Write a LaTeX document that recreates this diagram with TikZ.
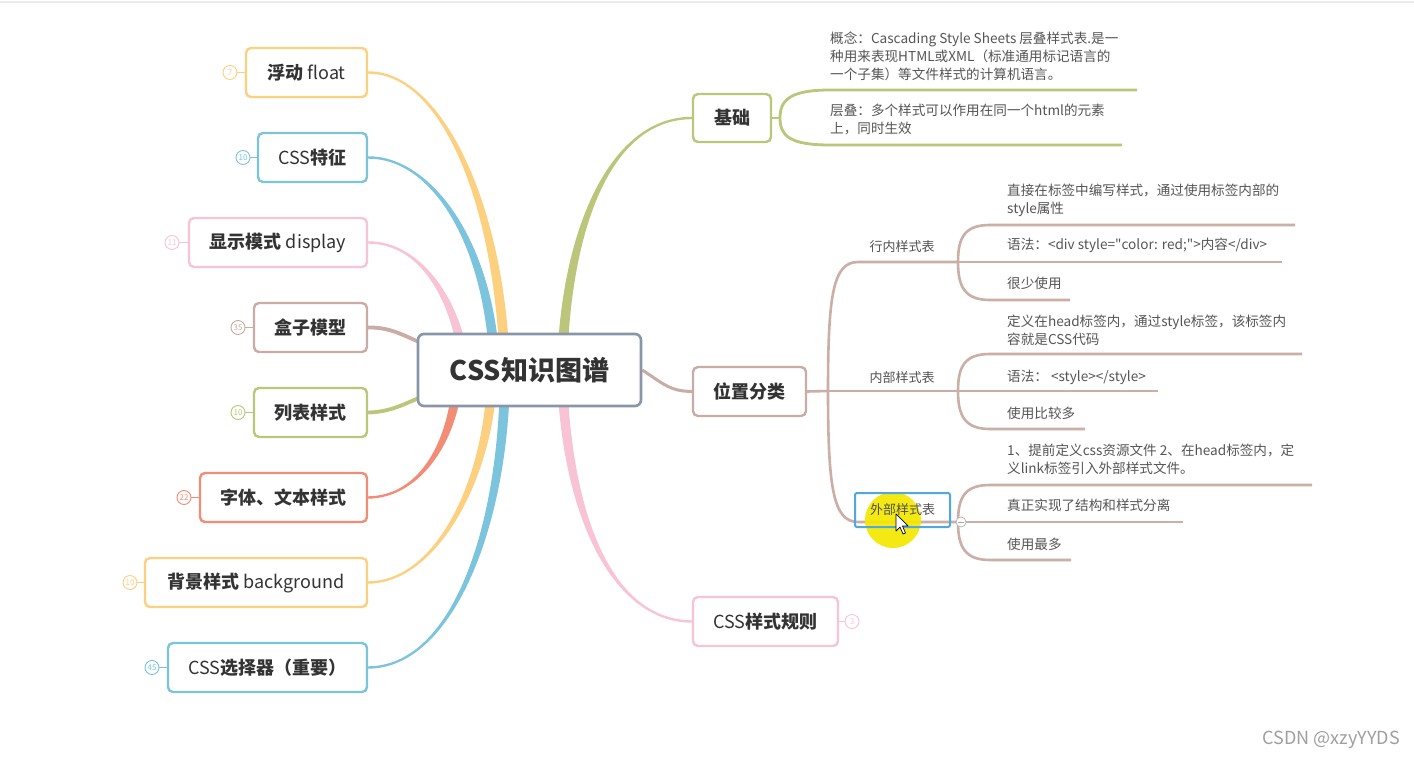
\documentclass[tikz,border=0pt]{standalone}
\usepackage{fontspec}
\setmainfont{Noto Sans CJK SC}
\newfontfamily\rawfont{Noto Sans CJK SC}
\usetikzlibrary{calc}
\definecolor{cyel}{HTML}{FCD07E}
\definecolor{cblu}{HTML}{7CC4DD}
\definecolor{cpnk}{HTML}{F9C3D6}
\definecolor{cbrn}{HTML}{C9ACA5}
\definecolor{cgrn}{HTML}{BCC67A}
\definecolor{csal}{HTML}{F38C76}
\definecolor{croot}{HTML}{8A96A8}
\definecolor{cline}{HTML}{C9AFA6}
\definecolor{ctxt}{HTML}{333333}
\definecolor{csub}{HTML}{555555}
\definecolor{csel}{HTML}{4FA8E0}
\definecolor{chl}{HTML}{F5E800}
\pgfdeclarelayer{bgfill}
\pgfdeclarelayer{bg}
\pgfsetlayers{bgfill,bg,main}
\newcommand\taper[7]{%
  \fill[#5] ($(#1)+(#6)$) .. controls ($(#2)+(#6)$) and ($(#3)+(#7)$) .. ($(#4)+(#7)$)
    -- ($(#4)-(#7)$) .. controls ($(#3)-(#7)$) and ($(#2)-(#6)$) .. ($(#1)-(#6)$) -- cycle;}
\newcommand\lt[1]{{\mdseries #1}}
\newcommand\qq{{\rawfont\symbol{34}}}
\begin{document}
\begin{tikzpicture}[x=1pt,y=-1pt,
  topic/.style={draw=#1, rounded corners=5pt, line width=2.4pt, fill=white,
    minimum height=49pt, inner sep=0pt, text=ctxt, font=\bfseries\fontsize{18}{20}\selectfont},
  badge/.style={circle, draw=#1, line width=0.9pt, fill=white, minimum size=14pt,
    inner sep=0pt, text=#1, font=\fontsize{8}{8}\selectfont},
  sublab/.style={inner sep=2pt, text=ctxt!85, font=\fontsize{13}{16}\selectfont},
  leaf/.style={anchor=north west, inner sep=0pt, align=left, text=csub,
    font=\fontsize{13.6}{18}\selectfont},
  brline/.style={cline, line width=2.6pt},
  grline/.style={cgrn, line width=2.8pt}]
\useasboundingbox (0,0) rectangle (1414,760);
\begin{pgfonlayer}{bgfill}
  \fill[white] (0,0) rectangle (1414,760);
  \draw[gray!15, line width=2.5pt] (0,2) -- (1414,2);
\end{pgfonlayer}

% ---------- root ----------
\node[draw=croot, rounded corners=6pt, line width=2.6pt, fill=white, minimum width=223pt,
  minimum height=72pt, text=ctxt, font=\bfseries\fontsize{27}{30}\selectfont] (root) at (529.5,370) {CSS知识图谱};

% ---------- left topics ----------
\node[topic=cyel, minimum width=121pt] (float) at (306.5,72.5) {浮动 \lt{float}};
\node[topic=cblu, minimum width=109pt] (feat) at (312.5,157.5) {\lt{CSS}特征};
\node[topic=cpnk, minimum width=178pt] (disp) at (278,242.5) {显示模式 \lt{display}};
\node[topic=cbrn, minimum width=113pt] (box) at (310.5,327.5) {盒子模型};
\node[topic=cgrn, minimum width=113pt] (list) at (310.5,412.5) {列表样式};
\node[topic=csal, minimum width=167pt] (font) at (283.5,497.5) {字体、文本样式};
\node[topic=cyel, minimum width=222pt] (bgd) at (256,582.5) {背景样式 \lt{background}};
\node[topic=cblu, minimum width=199pt] (sel) at (267.5,667.5) {\lt{CSS}选择器（重要）};

% badges
\node[badge=cyel] (b1) at (230,72.5) {7};
\node[badge=cblu] (b2) at (243,157.5) {10};
\node[badge=cpnk] (b3) at (172,242.5) {11};
\node[badge=cbrn] (b4) at (238,327.5) {35};
\node[badge=cgrn] (b5) at (238,412.5) {10};
\node[badge=csal] (b6) at (184,497.5) {22};
\node[badge=cyel] (b7) at (130,582.5) {10};
\node[badge=cblu] (b8) at (152,667.5) {45};

% ---------- right topics ----------
\node[topic=cgrn, minimum width=78pt, minimum height=48pt] (basic) at (732,118) {基础};
\node[topic=cbrn, minimum width=113pt] (pos) at (749.5,391.5) {位置分类};
\node[topic=cpnk, minimum width=145pt] (rule) at (765.5,621.5) {\lt{CSS}样式规则};
\node[badge=cpnk] (b9) at (852,621.5) {3};

% sub labels
\node[sublab] (inl) at (902,247) {行内样式表};
\node[sublab] (int) at (902,378) {内部样式表};
\node[sublab, draw=csel, line width=2pt, rounded corners=2pt, minimum width=95pt, minimum height=34pt] (ext) at (902.5,510) {外部样式表};

% leaves
\node[leaf] (t1) at (830,32) {概念：Cascading Style Sheets 层叠样式表.是一\\种用来表现HTML或XML（标准通用标记语言的\\一个子集）等文件样式的计算机语言。};
\node[leaf] (t2) at (830,104) {层叠：多个样式可以作用在同一个html的元素\\上，同时生效};
\node[leaf] (a1) at (1007,184) {直接在标签中编写样式，通过使用标签内部的\\style属性};
\node[leaf] (a2) at (1007,238) {语法：<div style=\qq color: red;\qq>内容</div>};
\node[leaf] (a3) at (1007,277) {很少使用};
\node[leaf] (n1) at (1007,315) {定义在head标签内，通过style标签，该标签内\\容就是CSS代码};
\node[leaf] (n2) at (1007,370) {语法： <style></style>};
\node[leaf] (n3) at (1007,407) {使用比较多};
\node[leaf] (e1) at (1007,444) {1、提前定义css资源文件 2、在head标签内，定\\义link标签引入外部样式文件。};
\node[leaf] (e2) at (1007,499) {真正实现了结构和样式分离};
\node[leaf] (e3) at (1007,538) {使用最多};

% coordinates
\coordinate (rA) at (505,370);
\coordinate (rB) at (495,370);
\coordinate (rC) at (465,370);
\coordinate (rD) at (458,370);
\coordinate (rE) at (492,370);
\coordinate (rF) at (505,370);
\coordinate (rG) at (562,370);
\coordinate (rH) at (430,346);
\coordinate (rI) at (430,394);
\coordinate (bj) at (780,118);
\coordinate (bl1) at (1137,90);
\coordinate (bl2) at (1122,145);
\coordinate (pj) at (828,391);
\coordinate (inlj) at (958,262);
\coordinate (intj) at (958,391);
\coordinate (extj) at (958,522);

\begin{pgfonlayer}{bg}
  % left connectors
  \taper{float.east}{440,72}{500,200}{rA}{cyel}{0,-1.2}{5,0}
  \taper{feat.east}{430,157}{490,240}{rB}{cblu}{0,-1.2}{5,0}
  \taper{disp.east}{420,242}{458,300}{rC}{cpnk}{0,-1.2}{5,0}
  \draw[cbrn, line width=3.8pt] (box.east) .. controls (395,327) and (410,340) .. (rH);
  \draw[cgrn, line width=3.8pt] (list.east) .. controls (395,412) and (410,400) .. (rI);
  \taper{font.east}{420,497}{456,440}{rD}{csal}{0,1.2}{5,0}
  \taper{bgd.east}{440,582}{492,470}{rE}{cyel}{0,1.2}{5,0}
  \taper{sel.east}{455,667}{505,520}{rF}{cblu}{0,1.2}{5,0}
  % badge links
  \foreach \b/\n/\c in {b1/float/cyel, b2/feat/cblu, b3/disp/cpnk, b4/box/cbrn, b5/list/cgrn, b6/font/csal, b7/bgd/cyel, b8/sel/cblu}
    \draw[\c, line width=1pt] (\b.east) -- (\n.west);
  \draw[cpnk, line width=1pt] (rule.east) -- (b9.west);
  % right connectors
  \taper{basic.west}{610,118}{565,230}{rG}{cgrn}{0,-1.2}{-5,0}
  \taper{rule.west}{610,621}{565,510}{rG}{cpnk}{0,1.2}{-5,0}
  \draw[cbrn, line width=3pt] (root.east) .. controls (665,385) and (670,391) .. (pos.west);
  % basic children
  \draw[grline] (basic.east) -- (bj);
  \draw[grline] (bj) .. controls (780,100) and (790,90) .. (830,90) -- (bl1);
  \draw[grline] (bj) .. controls (780,136) and (790,145) .. (830,145) -- (bl2);
  % position tree
  \draw[brline] (pos.east) -- (pj);
  \draw[brline] (pj) .. controls (828,295) and (833,262) .. (858,262) -- (inlj);
  \draw[brline] (pj) -- (intj);
  \draw[brline] (pj) .. controls (828,487) and (833,522) .. (858,522) -- (extj);
  \foreach \j/\Y/\ea/\eb/\ec in {inlj/262/1295/1282/1070, intj/391/1302/1158/1085, extj/522/1312/1183/1071}{
    \draw[brline] (\j) .. controls (958,\Y-25) and (965,\Y-37) .. (990,\Y-37) -- (\ea,\Y-37);
    \draw[brline] (\j) -- (\eb,\Y);
    \draw[brline] (\j) .. controls (958,\Y+25) and (965,\Y+38) .. (990,\Y+38) -- (\ec,\Y+38);
  }
  % highlight
  \fill[chl, opacity=0.92] (893,520) circle (28pt);
\end{pgfonlayer}

% collapse button
\node[circle, draw=gray!55, fill=white, minimum size=10pt, inner sep=0pt, line width=0.8pt] (col) at (961,522) {};
\draw[gray!70, line width=0.8pt] ([xshift=-3pt]col.center) -- ([xshift=3pt]col.center);

% cursor
\filldraw[fill=white, draw=black, line width=0.7pt, line join=round]
  (896,514) -- (896,531) -- (900,527) -- (903,534) -- (905.5,533) -- (902.5,526) -- (908,526) -- cycle;

% watermark
\node[text=gray!75, font=\fontsize{18}{18}\selectfont, anchor=east, inner sep=0pt] (wm) at (1400,740) {CSDN @xzyYYDS};
\end{tikzpicture}
\end{document}
